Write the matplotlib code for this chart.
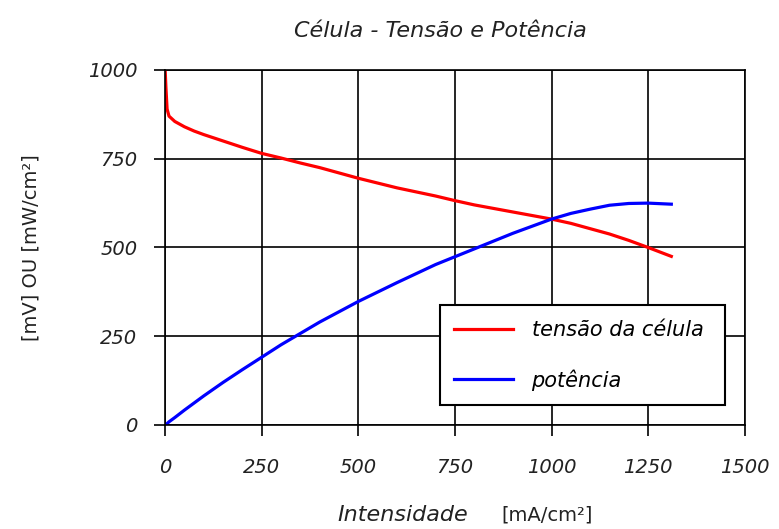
import matplotlib.pyplot as plt

# corrente (mA/cm2), tensao (mV), potencia (mW/cm2)
intensidade = [0, 2, 5, 10, 25, 50, 75, 100, 150, 200, 250, 300, 350, 400, 500,
               600, 700, 750, 800, 900, 1000, 1050, 1100, 1150, 1200, 1250, 1310]
tensao = [1000, 950, 890, 870, 855, 840, 828, 818, 800, 782, 765, 752, 738, 725, 695,
          668, 645, 632, 620, 600, 580, 568, 553, 538, 520, 500, 475]
potencia = [0, 2, 4, 9, 21, 42, 62, 82, 120, 156, 191, 226, 258, 290, 348,
            401, 452, 474, 496, 540, 580, 596, 608, 619, 624, 625, 622]

xticks = [0, 250, 500, 750, 1000, 1250, 1500]
yticks = [0, 250, 500, 750, 1000]

fig = plt.figure(figsize=(7.79, 5.29), dpi=100)
ax = fig.add_axes([0.212, 0.1966, 0.744, 0.6711])

ax.plot(intensidade, tensao, color='#ff0000', lw=2.3, label='tensão da célula')
ax.plot(intensidade, potencia, color='#0000ff', lw=2.3, label='potência')

ax.set_xlim(0, 1500)
ax.set_ylim(0, 1000)
ax.set_xticks(xticks)
ax.set_yticks(yticks)
ax.set_xticklabels([str(v) for v in xticks], fontsize=14, style='italic', color='#222222')
ax.set_yticklabels([str(v) for v in yticks], fontsize=14, style='italic', color='#222222')
ax.tick_params(direction='out', length=8, width=1.2, color='black', pad=12)
ax.tick_params(axis='x', pad=16)
ax.grid(True, color='black', lw=1.2)
ax.set_axisbelow(True)
for s in ax.spines.values():
    s.set_color('black')
    s.set_linewidth(1.2)

ax.set_title('Célula - Tensão e Potência', fontsize=16, style='italic',
             color='#222222', pad=24, x=0.475)
ax.set_ylabel('[mV] OU [mW/cm²]', fontsize=14, color='#222222')
ax.yaxis.set_label_coords(-0.215, 0.5)
fig.text(0.601, 0.026, 'Intensidade', fontsize=16, style='italic', ha='right',
         va='center', color='#222222')
fig.text(0.644, 0.026, '[mA/cm²]', fontsize=14, ha='left', va='center', color='#222222')

leg = ax.legend(loc='lower left', bbox_to_anchor=(0.474, 0.056, 0.492, 0.282),
                mode='expand', borderaxespad=0, fancybox=False, framealpha=1,
                edgecolor='black', prop={'size': 15, 'style': 'italic'},
                handlelength=2.8, handletextpad=0.9, borderpad=0.7,
                labelspacing=1.4)
leg.get_frame().set_linewidth(1.5)

fig.savefig('out.png', dpi=100)
